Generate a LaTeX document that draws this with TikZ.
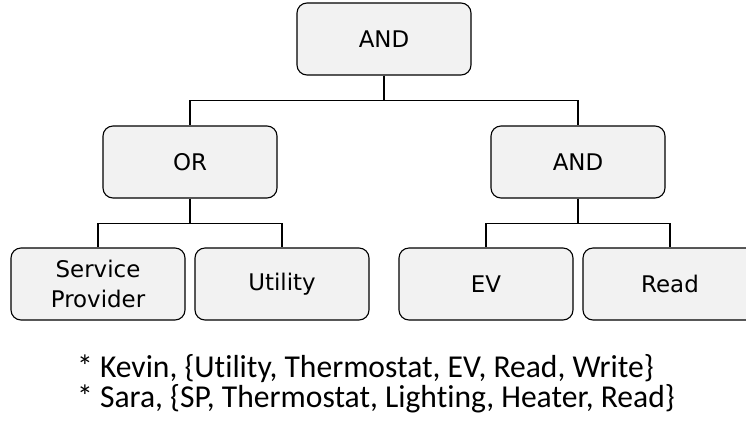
\documentclass[tikz,border=0pt]{standalone}
\usepackage{fontspec}
\setmainfont{DejaVu Sans}
\newfontfamily\notefont[Ligatures={NoCommon},FakeStretch=0.99]{Carlito}
\usetikzlibrary{positioning}
\definecolor{GateFill}{HTML}{F2F2F2}

\begin{document}
\begin{tikzpicture}[x=1bp,y=-1bp,
  gate/.style={draw=black,fill=GateFill,rounded corners=10bp,line width=1.1bp,
    minimum width=174bp,minimum height=72bp,inner sep=0pt,align=center,
    font=\fontsize{23}{31}\selectfont},
  link/.style={draw=black,line width=1.1bp},
  note/.style={anchor=base west,inner sep=0pt,
    font=\notefont\fontsize{32}{30}\selectfont}]
  \useasboundingbox (0,0) rectangle (746,423);
  \clip (0,0) rectangle (746,423);
  \node[gate] (top) at (384,39) {AND};
  \node[gate] (or) at (190,162) {OR};
  \node[gate] (and) at (578,162) {AND};
  \node[gate] (sp) at (98,284) {Service\\Provider};
  \node[gate] (util) at (282,284) {Utility};
  \node[gate] (ev) at (486,284) {EV};
  \node[gate] (read) at (670,284) {Read};
  \draw[link] (top.south) -- ++(0,25) -| (or.north);
  \draw[link] (top.south) -- ++(0,25) -| (and.north);
  \draw[link] (or.south) -- ++(0,25) -| (sp.north);
  \draw[link] (or.south) -- ++(0,25) -| (util.north);
  \draw[link] (and.south) -- ++(0,25) -| (ev.north);
  \draw[link] (and.south) -- ++(0,25) -| (read.north);
  \node[note] (kevin) at (77,377) {* Kevin, \{Utility, Thermostat, EV, Read, Write\}};
  \node[note] (sara) at (77,407) {* Sara, \{SP, Thermostat, Lighting, Heater, Read\}};
\end{tikzpicture}
\end{document}
